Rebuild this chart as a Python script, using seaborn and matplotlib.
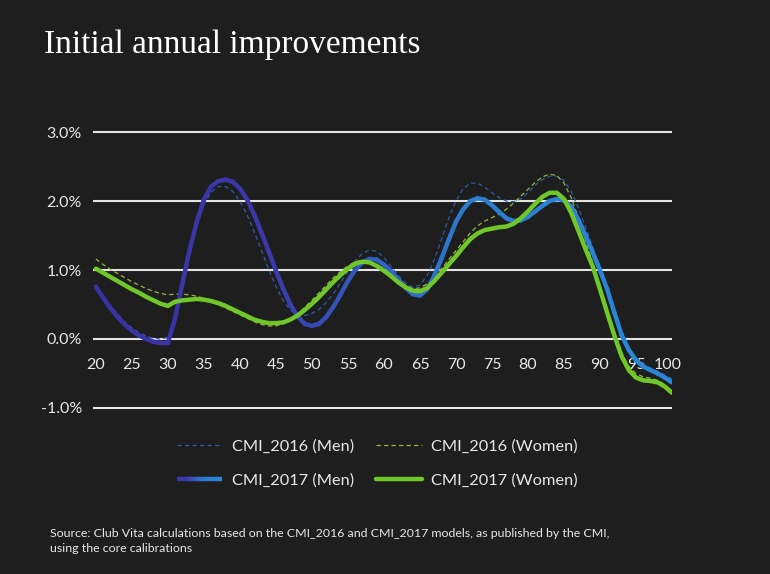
import numpy as np
import pandas as pd
import matplotlib
matplotlib.use("Agg")
import matplotlib.pyplot as plt
import matplotlib.transforms as mtransforms
import seaborn as sns
from matplotlib.collections import LineCollection
from matplotlib.colors import LinearSegmentedColormap
from matplotlib.legend_handler import HandlerBase
from matplotlib.lines import Line2D

# ----------------- DATA (% per year) -----------------
ages = list(range(20, 101))

men_2017 = [0.76, 0.60, 0.45, 0.32, 0.21, 0.12, 0.05, 0.00, -0.04, -0.06,
            -0.06, 0.30, 0.80, 1.28, 1.70, 2.02, 2.21, 2.29, 2.31, 2.28,
            2.18, 2.02, 1.80, 1.54, 1.27, 0.99, 0.73, 0.50, 0.33, 0.22,
            0.19, 0.22, 0.32, 0.47, 0.65, 0.84, 1.00, 1.11, 1.16, 1.15,
            1.08, 0.98, 0.86, 0.74, 0.65, 0.63, 0.72, 0.92, 1.17, 1.44,
            1.70, 1.88, 2.00, 2.04, 2.02, 1.94, 1.84, 1.75, 1.71, 1.72,
            1.77, 1.85, 1.93, 2.00, 2.03, 2.01, 1.92, 1.73, 1.50, 1.25,
            1.00, 0.72, 0.38, 0.06, -0.16, -0.31, -0.40, -0.45, -0.50, -0.56,
            -0.63]

women_2017 = [1.02, 0.96, 0.90, 0.84, 0.78, 0.72, 0.67, 0.61, 0.56, 0.51,
              0.48, 0.54, 0.56, 0.57, 0.58, 0.57, 0.55, 0.52, 0.48, 0.43,
              0.38, 0.33, 0.28, 0.25, 0.23, 0.23, 0.24, 0.28, 0.34, 0.42,
              0.51, 0.61, 0.72, 0.83, 0.93, 1.02, 1.09, 1.12, 1.11, 1.06,
              0.99, 0.91, 0.82, 0.75, 0.70, 0.69, 0.74, 0.84, 0.96, 1.08,
              1.20, 1.33, 1.45, 1.53, 1.58, 1.60, 1.62, 1.63, 1.67, 1.75,
              1.85, 1.96, 2.06, 2.12, 2.12, 2.03, 1.83, 1.57, 1.30, 1.05,
              0.72, 0.38, 0.05, -0.25, -0.45, -0.56, -0.60, -0.61, -0.63, -0.69,
              -0.78]

men_2016 = [0.78, 0.63, 0.49, 0.36, 0.25, 0.16, 0.09, 0.04, 0.01, 0.00,
            0.02, 0.30, 0.75, 1.20, 1.62, 1.95, 2.13, 2.21, 2.21, 2.14,
            2.00, 1.80, 1.55, 1.28, 1.01, 0.76, 0.56, 0.42, 0.35, 0.34,
            0.37, 0.43, 0.53, 0.66, 0.82, 0.98, 1.13, 1.24, 1.29, 1.27,
            1.18, 1.05, 0.92, 0.81, 0.75, 0.78, 0.92, 1.15, 1.45, 1.75,
            2.00, 2.18, 2.26, 2.26, 2.20, 2.12, 2.05, 2.00, 1.99, 2.03,
            2.12, 2.23, 2.31, 2.36, 2.36, 2.30, 2.14, 1.90, 1.62, 1.33,
            1.03, 0.73, 0.42, 0.12, -0.12, -0.27, -0.36, -0.42, -0.47, -0.52,
            -0.58]

women_2016 = [1.16, 1.08, 1.01, 0.95, 0.89, 0.83, 0.78, 0.73, 0.69, 0.66,
              0.64, 0.65, 0.65, 0.64, 0.62, 0.59, 0.55, 0.50, 0.45, 0.40,
              0.35, 0.30, 0.25, 0.21, 0.19, 0.19, 0.22, 0.28, 0.36, 0.46,
              0.56, 0.67, 0.78, 0.89, 0.98, 1.06, 1.12, 1.14, 1.12, 1.07,
              1.00, 0.92, 0.84, 0.77, 0.73, 0.74, 0.80, 0.90, 1.02, 1.15,
              1.28, 1.41, 1.54, 1.64, 1.71, 1.76, 1.81, 1.88, 1.97, 2.07,
              2.17, 2.27, 2.35, 2.39, 2.37, 2.26, 2.05, 1.76, 1.43, 1.10,
              0.77, 0.43, 0.10, -0.20, -0.40, -0.50, -0.55, -0.57, -0.60, -0.66,
              -0.76]

x_ticks = list(range(20, 101, 5))
y_ticks = [-1.0, 0.0, 1.0, 2.0, 3.0]
y_tick_labels = ["-1.0%", "0.0%", "1.0%", "2.0%", "3.0%"]

TITLE = "Initial annual improvements"
SOURCE = ("Source: Club Vita calculations based on the CMI_2016 and CMI_2017 models, as published by the CMI,\n"
          "using the core calibrations")

# ----------------- STYLE -----------------
BG = "#1e1e1e"
GRID = "#e4e4e4"
TEXT = "#e8e8e8"
GREEN = "#6fc72a"
GREEN_DASH = "#9bb53c"
BLUE_DASH = "#2f5aa8"
men_cmap = LinearSegmentedColormap.from_list(
    "men", [(0.0, "#3a31a2"), (0.30, "#3b38ab"), (0.50, "#3064c2"), (0.65, "#2b7ccf"), (1.0, "#2a88d8")])

sns.set_theme(style="dark")
plt.rcParams["font.family"] = ["Lato", "DejaVu Sans"]

df = pd.DataFrame({
    "age": ages * 4,
    "value": men_2016 + women_2016 + men_2017 + women_2017,
    "series": (["CMI_2016 (Men)"] * len(ages) + ["CMI_2016 (Women)"] * len(ages)
               + ["CMI_2017 (Men)"] * len(ages) + ["CMI_2017 (Women)"] * len(ages)),
})

fig = plt.figure(figsize=(7.70, 5.74), dpi=100, facecolor=BG)
ax = fig.add_axes([93 / 770, 1 - 410 / 574, 579 / 770, 280 / 574])
ax.set_facecolor(BG)

for y in y_ticks:
    ax.axhline(y, color=GRID, lw=1.5, zorder=1)

sns.lineplot(data=df[df.series == "CMI_2016 (Men)"], x="age", y="value", ax=ax,
             color=BLUE_DASH, lw=0.9, zorder=2)
ax.lines[-1].set_dashes([3.5, 2.5])
sns.lineplot(data=df[df.series == "CMI_2016 (Women)"], x="age", y="value", ax=ax,
             color=GREEN_DASH, lw=0.9, zorder=2)
ax.lines[-1].set_dashes([3.5, 2.5])

# men 2017: plot through seaborn, then recolour the path as a gradient
sns.lineplot(data=df[df.series == "CMI_2017 (Men)"], x="age", y="value", ax=ax,
             color="#2a88d8", lw=3.2, zorder=3)
men_line = ax.lines[-1]
xy = men_line.get_xydata()
men_line.remove()
segs = np.stack([xy[:-1], xy[1:]], axis=1)
norm = plt.Normalize(20, 100)
lc = LineCollection(segs, colors=men_cmap(norm((xy[:-1, 0] + xy[1:, 0]) / 2)),
                    linewidths=3.2, capstyle="round", joinstyle="round", zorder=3)
ax.add_collection(lc)

sns.lineplot(data=df[df.series == "CMI_2017 (Women)"], x="age", y="value", ax=ax,
             color=GREEN, lw=3.2, zorder=4)
ax.lines[-1].set_solid_capstyle("round")

ax.set_xlim(19.6, 100)
ax.set_ylim(-1.03, 3.03)
ax.set_xticks(x_ticks)
ax.set_xticklabels([str(t) for t in x_ticks])
ax.set_yticks(y_ticks)
ax.set_yticklabels(y_tick_labels)
ax.set_xlabel("")
ax.set_ylabel("")
ax.grid(False)
for s in ax.spines.values():
    s.set_visible(False)
ax.spines["bottom"].set_position(("data", 0))
ax.tick_params(axis="x", length=0, pad=14, labelsize=11.5, colors=TEXT)
ax.tick_params(axis="y", length=0, pad=8, labelsize=11.5, colors=TEXT)
# the "100" label sits a touch left of its tick in the original
last = ax.get_xticklabels()[-1]
last.set_transform(last.get_transform() + mtransforms.ScaledTranslation(-4 / 100, 0, fig.dpi_scale_trans))


class GradientHandler(HandlerBase):
    def create_artists(self, legend, orig_handle, xdescent, ydescent, width, height, fontsize, trans):
        xs = np.linspace(-xdescent, width - xdescent, 30)
        yy = np.full_like(xs, height / 2 - ydescent)
        pts = np.column_stack([xs, yy])
        sg = np.stack([pts[:-1], pts[1:]], axis=1)
        col = LineCollection(sg, colors=men_cmap(np.linspace(0.15, 0.95, len(sg))),
                             linewidths=3.2, transform=trans)
        return [col]


h_m16 = Line2D([], [], color=BLUE_DASH, lw=0.9, dashes=[3.5, 2.5])
h_w16 = Line2D([], [], color=GREEN_DASH, lw=0.9, dashes=[3.5, 2.5])
h_m17 = Line2D([], [], color="#2a88d8", lw=3.2)
h_w17 = Line2D([], [], color=GREEN, lw=3.2)
leg = fig.legend([h_m16, h_m17, h_w16, h_w17],
                 ["CMI_2016 (Men)", "CMI_2017 (Men)", "CMI_2016 (Women)", "CMI_2017 (Women)"],
                 handler_map={h_m17: GradientHandler()},
                 ncol=2, loc="center", bbox_to_anchor=(0.49, 1 - 463.5 / 574),
                 frameon=False, fontsize=11.8, labelcolor=TEXT,
                 handlelength=2.8, columnspacing=1.3, labelspacing=1.25, handletextpad=0.6)

fig.text(44 / 770, 1 - 45 / 574, TITLE, color="white", fontsize=24,
         family=["Liberation Serif", "DejaVu Serif"], va="center", ha="left")
fig.text(50 / 770, 1 - 541 / 574, SOURCE, color=TEXT, fontsize=8.9, va="center", ha="left",
         linespacing=1.45)

fig.savefig("out.png", dpi=100, facecolor=BG)
